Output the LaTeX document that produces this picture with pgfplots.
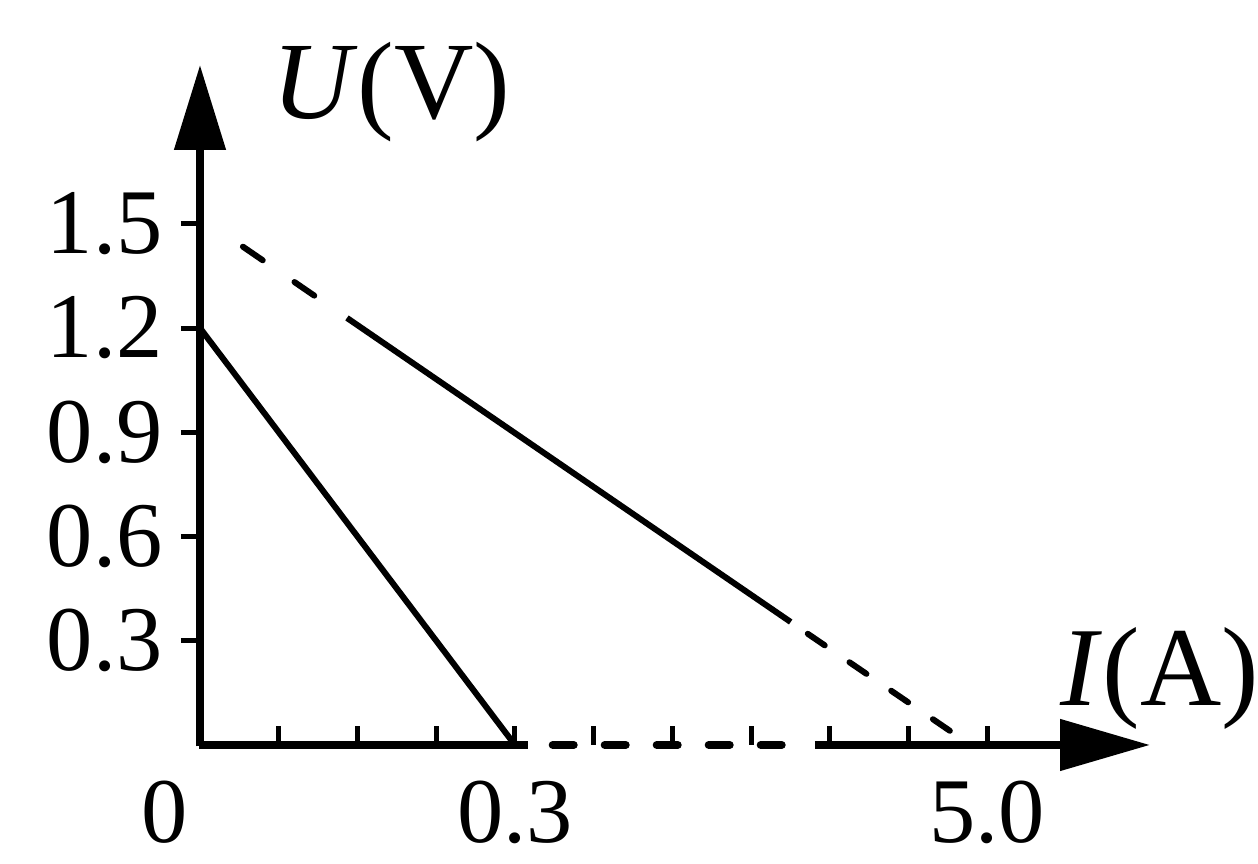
\documentclass[border=0pt]{standalone}
\usepackage{fontspec}
\setmainfont{Liberation Serif}
\usepackage{pgfplots}
\pgfplotsset{compat=1.18}
\usetikzlibrary{arrows.meta}

\begin{document}
\begin{tikzpicture}
  \begin{axis}[
    anchor=origin, at={(0,0)},
    scale only axis, width=190pt, height=136pt,
    xmin=0, xmax=0.905, ymin=0, ymax=1.957,
    axis lines=left, axis line style={draw=none},
    clip=false,
    /pgf/number format/assume math mode=true,
    % broken I axis: 0.3 at 0.3, 5.0 drawn at 0.75
    xtick={0.075,0.15,0.225,0.3,0.375,0.45,0.525,0.6,0.675,0.75},
    xticklabels={,,,0.3,,,,,,5.0},
    extra x ticks={0}, extra x tick labels={0},
    extra x tick style={major tick length=0pt, xticklabel style={xshift=-7pt}},
    ytick={0.3,0.6,0.9,1.2,1.5},
    yticklabels={0.3,0.6,0.9,1.2,1.5},
    xtick align=inside, ytick align=outside,
    major tick length=3.8pt,
    every tick/.style={black, line width=1pt},
    tick label style={font=\fontsize{18.5}{21}\selectfont, inner sep=0pt},
    xticklabel style={anchor=north, yshift=-7pt},
    yticklabel style={anchor=east, xshift=-3.5pt},
  ]
    % axes
    \addplot[line width=1.6pt, -{Triangle[length=17pt,width=10pt]}]
      coordinates {(0,-0.004) (0,1.957)};
    \addplot[line width=1.6pt] coordinates {(-0.001,0) (0.312,0)};
    \addplot[line width=1.6pt, line cap=round, dash pattern=on 4.2pt off 6.2pt]
      coordinates {(0.336,0) (0.563,0)};
    \addplot[line width=1.6pt, -{Triangle[length=18pt,width=10pt]}]
      coordinates {(0.5857,0) (0.905,0)};

    % U-I lines
    \addplot[line width=1.2pt] coordinates {(0,1.2) (0.3,0)};
    \addplot[line width=1.2pt, line cap=round, dash pattern=on 4.8pt off 7.7pt]
      coordinates {(0.0409,1.434) (0.1162,1.278)};
    \addplot[line width=1.2pt] coordinates {(0.140,1.229) (0.5627,0.354)};
    \addplot[line width=1.2pt, line cap=round, dash pattern=on 4.1pt off 6.0pt]
      coordinates {(0.579,0.320) (0.722,0.025)};

    \node[anchor=base west, inner sep=0pt, font=\fontsize{22}{25}\selectfont]
      at (axis cs:0.068,1.804) {\textit{U}(V)};
    \node[anchor=base west, inner sep=0pt, font=\fontsize{22.5}{25}\selectfont]
      at (axis cs:0.819,0.115) {\textit{I}(A)};
  \end{axis}
  \pgfresetboundingbox
  \path (-40pt,-23.8pt) rectangle (211.6pt,149pt);
\end{tikzpicture}
\end{document}
